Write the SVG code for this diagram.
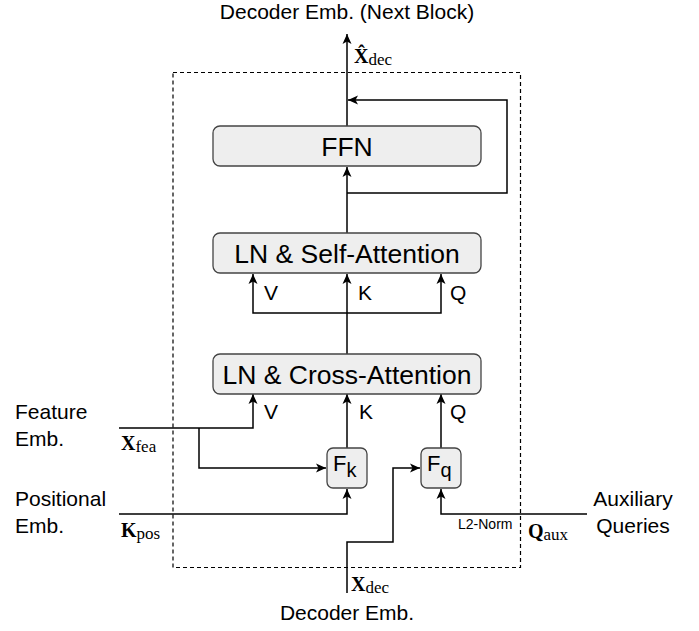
<svg xmlns="http://www.w3.org/2000/svg" width="699" height="631" viewBox="0 0 699 631">
<defs>
<marker id="arr" viewBox="0 0 10 10" refX="10" refY="5" markerWidth="10" markerHeight="10" markerUnits="userSpaceOnUse" orient="auto">
<path d="M0,0.5 L10,5 L0,9.5 L2.5,5 z" fill="#000"/>
</marker>
<style>
.ln{fill:none;stroke:#000;stroke-width:1.5;}
.box{fill:#eeeeee;stroke:#444;stroke-width:1.3;}
.t{font-family:"Liberation Sans",Arial,sans-serif;fill:#000;}
.big{font-size:26.5px;}
.lab{font-size:21px;}
.m{font-family:"Liberation Serif","Times New Roman",serif;fill:#000;}
.mx{font-size:20px;font-weight:bold;}
.ms{font-size:17px;}
</style>
</defs>
<rect x="173" y="72.5" width="347.5" height="495" fill="none" stroke="#000" stroke-width="1.2" stroke-dasharray="4,3"/>
<g id="connectors">
<path class="ln" d="M347,126 V34" marker-end="url(#arr)"/>
<path class="ln" d="M347,193 H507 V100 H348" marker-end="url(#arr)"/>
<path class="ln" d="M347,233 V167" marker-end="url(#arr)"/>
<path class="ln" d="M347,354 V274" marker-end="url(#arr)"/>
<path class="ln" d="M347,313 H253 V274" marker-end="url(#arr)"/>
<path class="ln" d="M347,313 H441 V274" marker-end="url(#arr)"/>
<path class="ln" d="M119,428 H253 V394" marker-end="url(#arr)"/>
<path class="ln" d="M199,428 V468 H326" marker-end="url(#arr)"/>
<path class="ln" d="M347,448 V394" marker-end="url(#arr)"/>
<path class="ln" d="M441,448 V394" marker-end="url(#arr)"/>
<path class="ln" d="M119,514 H347 V489" marker-end="url(#arr)"/>
<path class="ln" d="M587,514 H441 V489" marker-end="url(#arr)"/>
<path class="ln" d="M347,593 V542 H393 V468 H420" marker-end="url(#arr)"/>
</g>
<g id="ffn">
<rect class="box" x="213" y="126" width="268" height="40" rx="7"/>
<text class="t big" x="347" y="155.5" text-anchor="middle">FFN</text>
</g>
<g id="self-attention">
<rect class="box" x="213" y="233" width="268" height="40" rx="7"/>
<text class="t big" x="347" y="262.5" text-anchor="middle">LN &amp; Self-Attention</text>
</g>
<g id="cross-attention">
<rect class="box" x="213" y="354" width="268" height="40" rx="7"/>
<text class="t big" x="347" y="383.5" text-anchor="middle">LN &amp; Cross-Attention</text>
</g>
<g id="fk">
<rect class="box" x="327" y="448" width="40" height="40" rx="6"/>
<text class="t" x="333" y="471" font-size="22">F<tspan font-size="20" dy="6">k</tspan></text>
</g>
<g id="fq">
<rect class="box" x="421" y="448" width="40" height="40" rx="6"/>
<text class="t" x="427" y="471" font-size="22">F<tspan font-size="20" dy="6">q</tspan></text>
</g>
<g id="labels">
<text class="t lab" x="347" y="19" text-anchor="middle">Decoder Emb. (Next Block)</text>
<text class="m" x="354" y="63"><tspan class="mx">X&#x302;</tspan><tspan class="ms" dy="2">dec</tspan></text>
<text class="t lab" x="264" y="300">V</text>
<text class="t lab" x="358" y="300">K</text>
<text class="t lab" x="450" y="300">Q</text>
<text class="t lab" x="264" y="419">V</text>
<text class="t lab" x="359" y="419">K</text>
<text class="t lab" x="450" y="419">Q</text>
<text class="t lab" x="15" y="419">Feature</text>
<text class="t lab" x="15" y="446">Emb.</text>
<text class="t lab" x="15" y="506">Positional</text>
<text class="t lab" x="15" y="533">Emb.</text>
<text class="m" x="121" y="450"><tspan class="mx">X</tspan><tspan class="ms" dy="2">fea</tspan></text>
<text class="m" x="121" y="537"><tspan class="mx">K</tspan><tspan class="ms" dy="2">pos</tspan></text>
<text class="t" x="458" y="529" font-size="14">L2-Norm</text>
<text class="m" x="528" y="538"><tspan class="mx">Q</tspan><tspan class="ms" dy="2">aux</tspan></text>
<text class="t lab" x="633" y="506" text-anchor="middle">Auxiliary</text>
<text class="t lab" x="633" y="533" text-anchor="middle">Queries</text>
<text class="m" x="351" y="591"><tspan class="mx">X</tspan><tspan class="ms" dy="2">dec</tspan></text>
<text class="t lab" x="347" y="620" text-anchor="middle">Decoder Emb.</text>
</g>
</svg>
